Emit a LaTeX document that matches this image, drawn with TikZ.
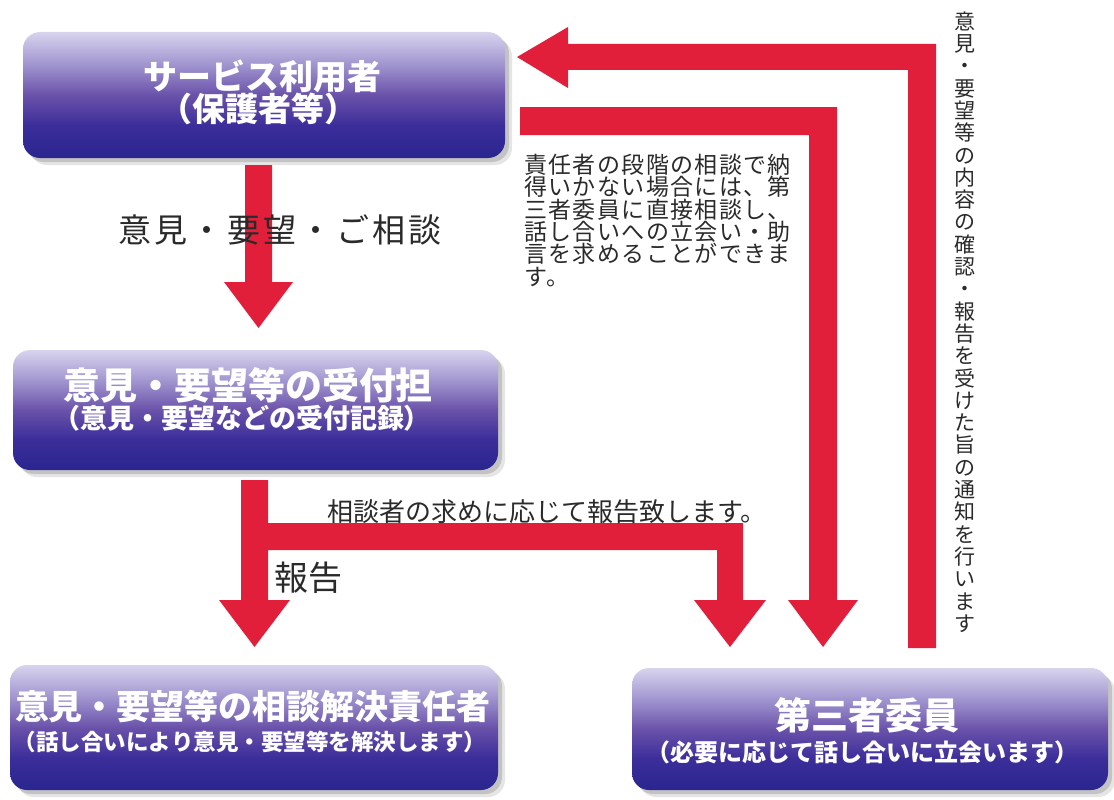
\documentclass[tikz,border=0pt]{standalone}
\usepackage{fontspec}
\newfontfamily\jp{Noto Sans CJK JP}
\newfontfamily\jpsp{Noto Sans CJK JP}[LetterSpace=10]
\newfontfamily\jpsq{Noto Sans CJK JP}[LetterSpace=6]
\definecolor{arrred}{HTML}{E11F3B}
\definecolor{btop}{HTML}{D8D4EE}
\definecolor{bupper}{HTML}{A094CF}
\definecolor{bmid}{HTML}{6A52AA}
\definecolor{blow}{HTML}{3C2E9A}
\definecolor{bbot}{HTML}{2A258F}
\definecolor{txtgray}{HTML}{2A2A2A}
\pgfdeclareverticalshading{boxshade}{100bp}{color(0bp)=(bbot); color(25bp)=(bbot); color(38bp)=(blow); color(50bp)=(bmid); color(62bp)=(bupper); color(75bp)=(btop); color(100bp)=(btop)}
\begin{document}
\begin{tikzpicture}[x=1pt,y=-1pt,
  flowbox/.style={rounded corners=17pt, shade, shading=boxshade, inner sep=0pt,
    preaction={fill=black, opacity=0.10, transform canvas={shift={(7pt,-7pt)}}},
    preaction={fill=black, opacity=0.15, transform canvas={shift={(4pt,-4pt)}}}},
  boxtxt/.style={text=white, inner sep=0pt},
  lbl/.style={text=txtgray, inner sep=0pt},
  redarrow/.style={fill=arrred, draw=none}]
\useasboundingbox (0,0) rectangle (1114,800);

% boxes
\node[flowbox, minimum width=482pt, minimum height=126pt] (user) at (264,95) {};
\node[flowbox, minimum width=485pt, minimum height=120pt] (recv) at (255.5,410) {};
\node[flowbox, minimum width=488pt, minimum height=125pt] (resolve) at (254,727.5) {};
\node[flowbox, minimum width=476pt, minimum height=122pt] (third) at (870,729) {};

% box texts
\node[boxtxt, font=\jp\bfseries\fontsize{34}{34}\selectfont] (userA) at (262,76) {サービス利用者};
\node[boxtxt, font=\jp\bfseries\fontsize{33}{33}\selectfont] (userB) at (258,109) {（保護者等）};
\node[boxtxt, font=\jp\bfseries\fontsize{37}{37}\selectfont] (recvA) at (248,385) {意見・要望等の受付担};
\node[boxtxt, font=\jp\bfseries\fontsize{27}{27}\selectfont] (recvB) at (242,418) {（意見・要望などの受付記録）};
\node[boxtxt, font=\jp\bfseries\fontsize{34}{34}\selectfont] (resA) at (253,707) {意見・要望等の相談解決責任者};
\node[boxtxt, font=\jp\bfseries\fontsize{22.5}{22.5}\selectfont] (resB) at (250,742) {（話し合いにより意見・要望等を解決します）};
\node[boxtxt, font=\jp\bfseries\fontsize{37}{37}\selectfont] (thirdA) at (867,715) {第三者委員};
\node[boxtxt, font=\jp\bfseries\fontsize{24}{24}\selectfont] (thirdB) at (862,752) {（必要に応じて話し合いに立会います）};

% red block arrows
\fill[redarrow] (245,165) -- (272,165) -- (272,282) -- (293,282) -- (258.5,328) -- (224,282) -- (245,282) -- cycle;
\fill[redarrow] (241,480) -- (268,480) -- (268,523) -- (743,523) -- (743,600) -- (766,600) -- (730,647) -- (694,600) -- (717,600) -- (717,550) -- (268,550) -- (268,600) -- (290,600) -- (254.5,647) -- (219,600) -- (241,600) -- cycle;
\fill[redarrow] (520,107) -- (837,107) -- (837,600) -- (858,600) -- (823,647) -- (788,600) -- (809,600) -- (809,135) -- (520,135) -- cycle;
\fill[redarrow] (936,648) -- (908,648) -- (908,70) -- (568,70) -- (568,88) -- (517,57) -- (568,27) -- (568,44) -- (936,44) -- cycle;

% labels
\node[lbl, font=\jpsp\fontsize{33}{33}\selectfont] (reqlbl) at (280,230) {意見・要望・ご相談};
\node[lbl, font=\jp\fontsize{34}{34}\selectfont] (replbl) at (308,578) {報告};
\node[lbl, font=\jp\fontsize{26}{26}\selectfont] (reqrep) at (547,512) {相談者の求めに応じて報告致します。};
\node[lbl, font=\jpsq\fontsize{23}{22.3}\selectfont, align=left, anchor=north west] (para) at (524,154)
  {責任者の段階の相談で納\\得いかない場合には、第\\三者委員に直接相談し、\\話し合いへの立会い・助\\言を求めることができま\\す。};
\node[lbl, font=\jp\fontsize{21}{22.3}\selectfont, align=center] (vert) at (965,322)
  {意\\見\\・\\要\\望\\等\\の\\内\\容\\の\\確\\認\\・\\報\\告\\を\\受\\け\\た\\旨\\の\\通\\知\\を\\行\\い\\ま\\す};
\end{tikzpicture}
\end{document}
